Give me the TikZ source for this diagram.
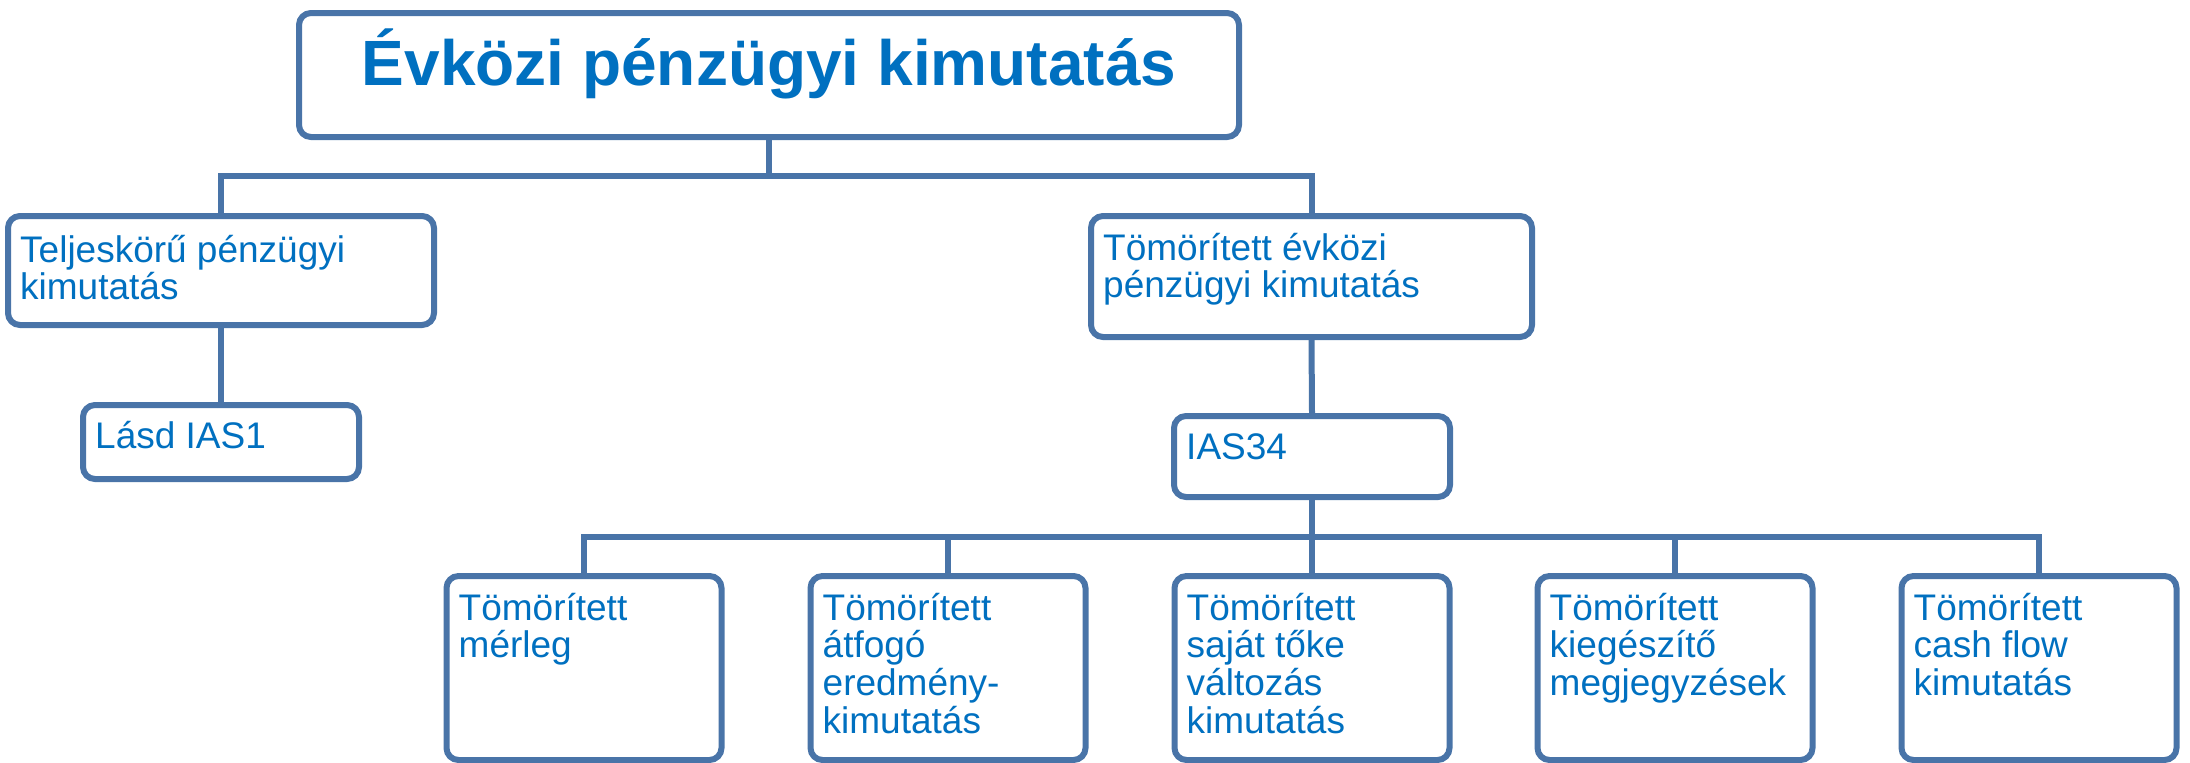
\documentclass[tikz,border=0pt]{standalone}
\usepackage{fontspec}
\setmainfont{Liberation Sans}
\definecolor{boxblue}{RGB}{73,116,168}
\definecolor{txtblue}{RGB}{0,112,192}
\newcommand\mlines[1]{\vtop{\halign{##\hfil\cr#1\crcr}}}
\begin{document}
\begin{tikzpicture}[x=1pt,y=-1pt,
  box/.style={draw=boxblue,line width=6pt,fill=white,rounded corners=12pt,inner sep=0pt,rectangle},
  conn/.style={draw=boxblue,line width=6pt},
  txt/.style={text=txtblue,inner sep=0pt,anchor=base west,font=\fontsize{37}{37.7}\selectfont},
  ttl/.style={text=txtblue,inner sep=0pt,anchor=base,font=\fontsize{64}{64}\selectfont\bfseries}]
\useasboundingbox (0,0) rectangle (2190,763);
% boxes
\node[box,minimum width=940pt,minimum height=124pt] (title) at (769,75) {};
\node[box,minimum width=426pt,minimum height=109pt] (lc) at (221,270.5) {};
\node[box,minimum width=276pt,minimum height=74pt] (ias1) at (221,442) {};
\node[box,minimum width=441pt,minimum height=121pt] (rc) at (1311.5,276.5) {};
\node[box,minimum width=276pt,minimum height=81pt] (ias34) at (1312,456.5) {};
\foreach \n/\x in {b1/584,b2/948,b3/1312,b4/1675,b5/2039}
  \node[box,minimum width=275pt,minimum height=184pt] (\n) at (\x,668) {};
% junctions
\coordinate (j1) at (769,176);
\coordinate (j2) at (1312,537);
% connectors
\draw[conn] (title.south) -- (j1);
\draw[conn] (lc.north) |- (j1) -| (rc.north);
\draw[conn] (lc.south) -- (ias1.north);
\draw[conn] (rc.south) -- (ias34.north);
\draw[conn] (ias34.south) -- (j2);
\draw[conn] (b1.north) |- (j2) -| (b5.north);
\draw[conn] (b2.north) -- (b2.north |- j2);
\draw[conn] (b3.north) -- (j2);
\draw[conn] (b4.north) -- (b4.north |- j2);
% texts
\node[ttl] (ttlt) at ([yshift=-75pt]title.north) {Évközi pénzügyi kimutatás};
\node[txt] (lct) at ([xshift=15pt,yshift=-49pt]lc.north west) {\mlines{Teljeskörű pénzügyi\cr kimutatás}};
\node[txt] (ias1t) at ([xshift=15pt,yshift=-46pt]ias1.north west) {Lásd IAS1};
\node[txt] (rct) at ([xshift=15pt,yshift=-47pt]rc.north west) {\mlines{Tömörített évközi\cr pénzügyi kimutatás}};
\node[txt] (ias34t) at ([xshift=15pt,yshift=-46pt]ias34.north west) {IAS34};
\node[txt] (b1t) at ([xshift=15pt,yshift=-47pt]b1.north west) {\mlines{Tömörített\cr mérleg}};
\node[txt] (b2t) at ([xshift=15pt,yshift=-47pt]b2.north west) {\mlines{Tömörített\cr átfogó\cr eredmény-\cr kimutatás}};
\node[txt] (b3t) at ([xshift=15pt,yshift=-47pt]b3.north west) {\mlines{Tömörített\cr saját tőke\cr változás\cr kimutatás}};
\node[txt] (b4t) at ([xshift=15pt,yshift=-47pt]b4.north west) {\mlines{Tömörített\cr kiegészítő\cr megjegyzések}};
\node[txt] (b5t) at ([xshift=15pt,yshift=-47pt]b5.north west) {\mlines{Tömörített\cr cash flow\cr kimutatás}};
\end{tikzpicture}
\end{document}
